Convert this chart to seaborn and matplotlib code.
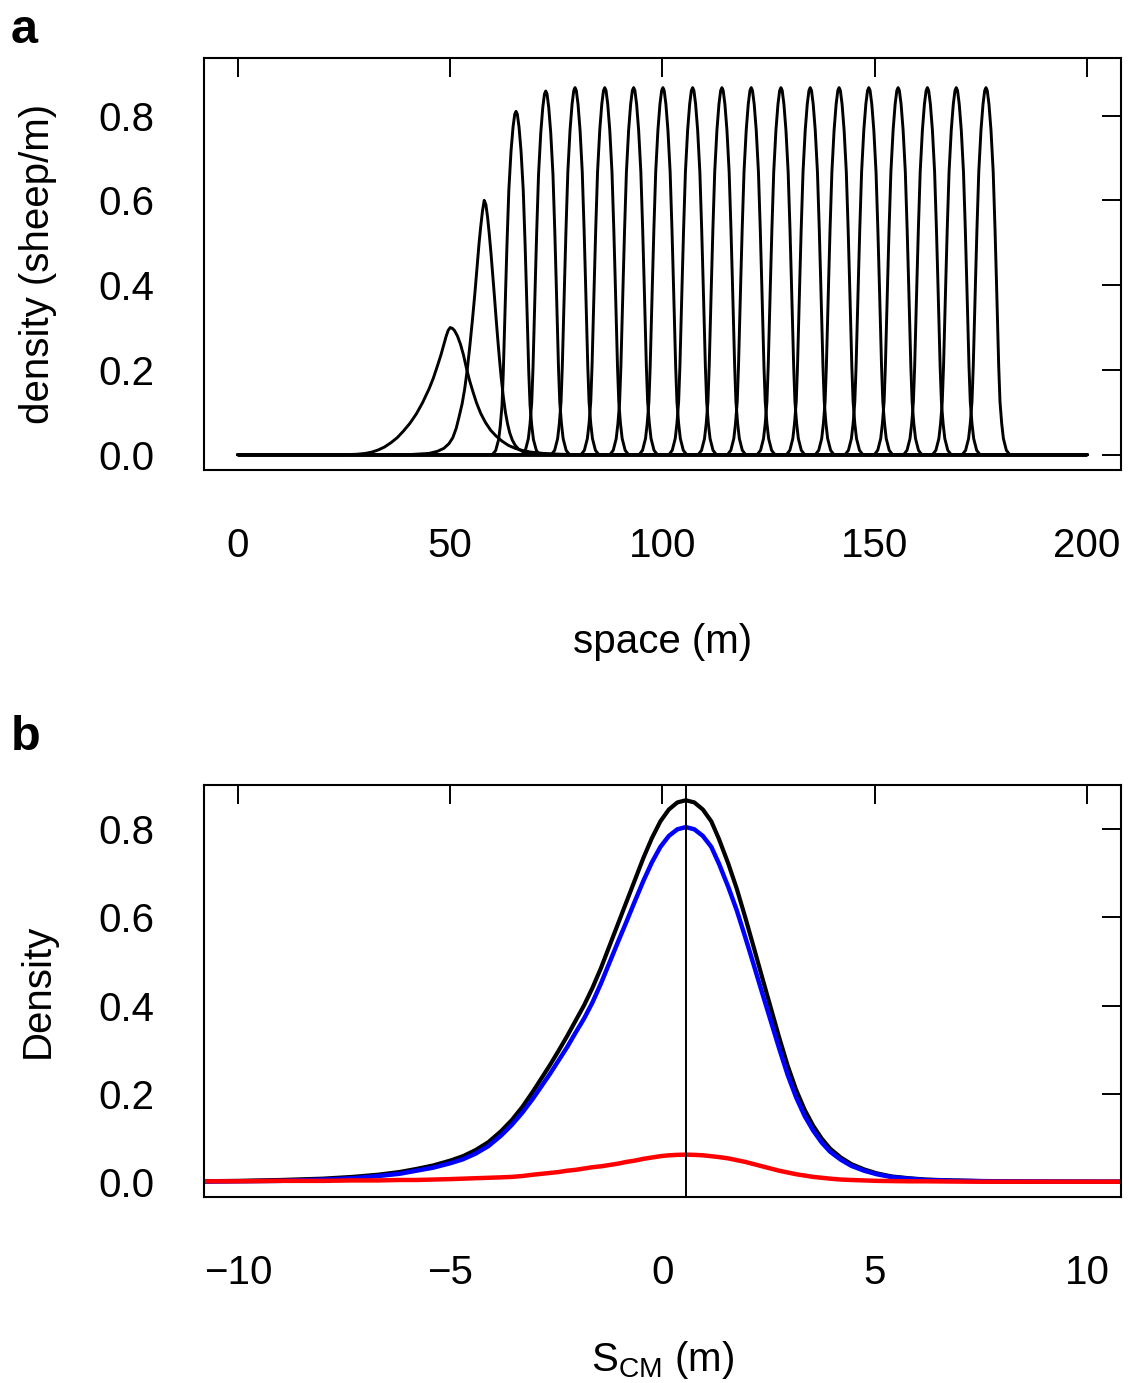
# Sheep density waves: (a) profiles through space, (b) profile around the centre of mass
import matplotlib
matplotlib.use('Agg')

import matplotlib.pyplot as plt
import seaborn as sns


# ---- panel a data ----
# first two profiles, read point by point
curve1_x = [0, 25, 28, 30, 31.5, 33, 34.5, 36, 37.5, 39, 40.5, 42, 43.5, 45, 46, 47, 47.8,
            48.5, 49, 49.5, 50, 50.5, 51, 51.7, 52.4, 53.1, 53.8, 54.5, 55.3, 56.2, 57.2,
            58.3, 59.5, 60.8, 62.2, 63.7, 65.3, 67, 69, 72, 76, 82, 200]
curve1_y = [0, 0, 0.001, 0.003, 0.006, 0.011, 0.018, 0.028, 0.040, 0.056, 0.074, 0.096,
            0.123, 0.155, 0.18, 0.21, 0.235, 0.26, 0.278, 0.293, 0.300, 0.298, 0.293,
            0.280, 0.261, 0.236, 0.205, 0.177, 0.150, 0.122, 0.097, 0.076, 0.058, 0.044,
            0.032, 0.022, 0.015, 0.010, 0.006, 0.003, 0.001, 0, 0]

curve2_x = [0, 40, 45, 47, 48.5, 49.7, 50.6, 51.4, 52.1, 52.8, 53.4, 54, 54.6, 55.2, 55.8,
            56.3, 56.8, 57.2, 57.6, 58, 58.4, 58.8, 59.2, 59.6, 60.0, 60.4, 60.8, 61.2,
            61.6, 62.0, 62.5, 63, 63.5, 64, 64.6, 65.3, 66.2, 67.5, 69, 72, 76, 200]
curve2_y = [0, 0, 0.003, 0.008, 0.015, 0.026, 0.040, 0.062, 0.09, 0.12, 0.155, 0.20,
            0.255, 0.315, 0.38, 0.44, 0.50, 0.54, 0.575, 0.60, 0.59, 0.56, 0.52, 0.475,
            0.425, 0.375, 0.322, 0.272, 0.225, 0.182, 0.137, 0.10, 0.073, 0.052, 0.035,
            0.022, 0.012, 0.006, 0.003, 0.001, 0, 0]

# later profiles: peak positions and heights
peak_centres = [65.5, 72.5, 79.4, 86.4, 93.2, 100.1, 107.1, 114.0, 120.9, 127.9,
                134.8, 141.6, 148.6, 155.5, 162.4, 169.2, 176.2]
peak_heights = [0.81, 0.858, 0.866, 0.866, 0.866, 0.866, 0.866, 0.866, 0.866, 0.866,
                0.866, 0.866, 0.866, 0.866, 0.866, 0.866, 0.866]
# shape of one travelling profile (offset from peak in m, fraction of peak height)
profile_offset = [-5.6, -4.8, -4.1, -3.7, -3.3, -3.0, -2.76, -2.45, -2.13, -1.7, -1.18,
                  -0.7, -0.3, 0, 0.3, 0.7, 1.18, 1.7, 2.13, 2.45, 2.76, 3.0, 3.3, 3.7,
                  4.1, 4.8, 5.6]
profile_rel = [0, 0.012, 0.044, 0.085, 0.144, 0.24, 0.345, 0.48, 0.614, 0.77, 0.884,
               0.955, 0.992, 1.0, 0.992, 0.955, 0.884, 0.77, 0.614, 0.48, 0.345, 0.24,
               0.144, 0.085, 0.044, 0.012, 0]

# ---- panel b data ----
s_cm = [-11, -10, -9, -8, -7.3, -6.7, -6.2, -5.8, -5.4, -5.0, -4.7, -4.4, -4.1, -3.8,
        -3.55, -3.3, -3.05, -2.85, -2.65, -2.45, -2.25, -2.05, -1.85, -1.65, -1.45,
        -1.25, -1.05, -0.85, -0.65, -0.45, -0.25, -0.05, 0.15, 0.35, 0.55, 0.75, 0.95,
        1.15, 1.33, 1.55, 1.75, 1.95, 2.15, 2.35, 2.55, 2.75, 2.95, 3.15, 3.35, 3.55,
        3.75, 3.95, 4.2, 4.45, 4.75, 5.05, 5.4, 5.8, 6.2, 6.8, 7.5, 8.5, 11]
dens_total = [0.001, 0.002, 0.004, 0.007, 0.011, 0.016, 0.022, 0.029, 0.037, 0.048,
              0.058, 0.072, 0.09, 0.115, 0.14, 0.17, 0.205, 0.235, 0.265, 0.297, 0.33,
              0.365, 0.40, 0.44, 0.485, 0.535, 0.585, 0.635, 0.685, 0.735, 0.78, 0.818,
              0.845, 0.861, 0.866, 0.861, 0.845, 0.818, 0.778, 0.722, 0.665, 0.60, 0.532,
              0.463, 0.395, 0.327, 0.263, 0.208, 0.163, 0.127, 0.098, 0.075, 0.055, 0.040,
              0.028, 0.019, 0.012, 0.008, 0.005, 0.003, 0.0015, 0.0005, 0.0]
dens_blue = [0.0, 0.001, 0.002, 0.005, 0.008, 0.013, 0.018, 0.025, 0.032, 0.042, 0.051,
             0.064, 0.081, 0.105, 0.129, 0.157, 0.189, 0.217, 0.245, 0.275, 0.305, 0.338,
             0.370, 0.407, 0.450, 0.497, 0.544, 0.590, 0.637, 0.683, 0.725, 0.760, 0.785,
             0.800, 0.805, 0.800, 0.785, 0.760, 0.722, 0.669, 0.616, 0.555, 0.492, 0.428,
             0.365, 0.302, 0.242, 0.191, 0.149, 0.116, 0.089, 0.068, 0.050, 0.036, 0.025,
             0.017, 0.0105, 0.007, 0.004, 0.0025, 0.0015, 0.0005, 0.0]
dens_red = [0.001, 0.001, 0.002, 0.002, 0.003, 0.003, 0.004, 0.004, 0.005, 0.006, 0.007,
            0.008, 0.009, 0.010, 0.011, 0.013, 0.016, 0.018, 0.020, 0.022, 0.025, 0.027,
            0.030, 0.033, 0.035, 0.038, 0.041, 0.045, 0.048, 0.052, 0.055, 0.058, 0.060,
            0.061, 0.0615, 0.061, 0.060, 0.058, 0.056, 0.053, 0.049, 0.045, 0.040, 0.035,
            0.030, 0.025, 0.021, 0.017, 0.014, 0.011, 0.009, 0.007, 0.005, 0.004, 0.003,
            0.002, 0.0015, 0.001, 0.001, 0.0005, 0.0, 0.0, 0.0]
centre_of_mass = 0.55

sns.set_theme(style="white")
plt.rcParams['font.family'] = ['Liberation Sans', 'DejaVu Sans']
plt.rcParams['mathtext.fontset'] = 'custom'
plt.rcParams['mathtext.rm'] = 'Liberation Sans'
plt.rcParams['text.color'] = 'black'
plt.rcParams['axes.labelcolor'] = 'black'

FS = 29

fig = plt.figure(figsize=(11.29, 13.83), dpi=100)
ax_a = fig.add_axes([0.1807, 0.6602, 0.8122, 0.2979])
ax_b = fig.add_axes([0.1807, 0.1345, 0.8122, 0.2979])

# Panel a
lw_a = 2.1
sns.lineplot(x=curve1_x, y=curve1_y, ax=ax_a, color="black", lw=lw_a,
             estimator=None, sort=False)
sns.lineplot(x=curve2_x, y=curve2_y, ax=ax_a, color="black", lw=lw_a,
             estimator=None, sort=False)
for c, h in zip(peak_centres, peak_heights):
    xs = [0] + [c + d for d in profile_offset] + [200]
    ys = [0] + [h * r for r in profile_rel] + [0]
    sns.lineplot(x=xs, y=ys, ax=ax_a, color="black", lw=lw_a,
                 estimator=None, sort=False)

ax_a.set_xlim(-8, 208)
ax_a.set_ylim(-0.036, 0.936)
ax_a.set_xticks([0, 50, 100, 150, 200])
ax_a.set_yticks([0.0, 0.2, 0.4, 0.6, 0.8])
ax_a.set_yticklabels(["0.0", "0.2", "0.4", "0.6", "0.8"])
ax_a.set_xlabel("space (m)", fontsize=FS, va="center")
ax_a.xaxis.set_label_coords(0.5, -0.418)
ax_a.set_ylabel("density (sheep/m)", fontsize=FS, va="center")
ax_a.yaxis.set_label_coords(-0.181, 0.5)

# Panel b
sns.lineplot(x=s_cm, y=dens_total, ax=ax_b, color="black", lw=3.0,
             estimator=None, sort=False)
sns.lineplot(x=s_cm, y=dens_blue, ax=ax_b, color="#0000ff", lw=3.2,
             estimator=None, sort=False)
sns.lineplot(x=s_cm, y=dens_red, ax=ax_b, color="#ff0000", lw=3.2,
             estimator=None, sort=False)
ax_b.axvline(centre_of_mass, color="black", lw=1.4)

ax_b.set_xlim(-10.8, 10.8)
ax_b.set_ylim(-0.0346, 0.9006)
ax_b.set_xticks([-10, -5, 0, 5, 10])
ax_b.set_yticks([0.0, 0.2, 0.4, 0.6, 0.8])
ax_b.set_yticklabels(["0.0", "0.2", "0.4", "0.6", "0.8"])
ax_b.set_xlabel(r"$\mathregular{S_{CM}}$ (m)", fontsize=FS, va="center")
ax_b.xaxis.set_label_coords(0.5, -0.395)
ax_b.set_ylabel("Density", fontsize=FS, va="center")
ax_b.yaxis.set_label_coords(-0.181, 0.5)

for ax in (ax_a, ax_b):
    for sp in ax.spines.values():
        sp.set_visible(True)
        sp.set_color("black")
        sp.set_linewidth(1.5)
    ax.tick_params(axis="both", direction="in", length=13.5, width=1.4,
                   colors="black", labelcolor="black", labelsize=FS,
                   top=True, right=True)
    ax.tick_params(axis="x", pad=41)
    ax.tick_params(axis="y", pad=36)
    ax.grid(False)

fig.text(11 / 1129, 1 - 43 / 1383, "a", fontsize=35, fontweight="bold",
         ha="left", va="baseline")
fig.text(11 / 1129, 1 - 750 / 1383, "b", fontsize=35, fontweight="bold",
         ha="left", va="baseline")

fig.savefig("out.png", dpi=100)
